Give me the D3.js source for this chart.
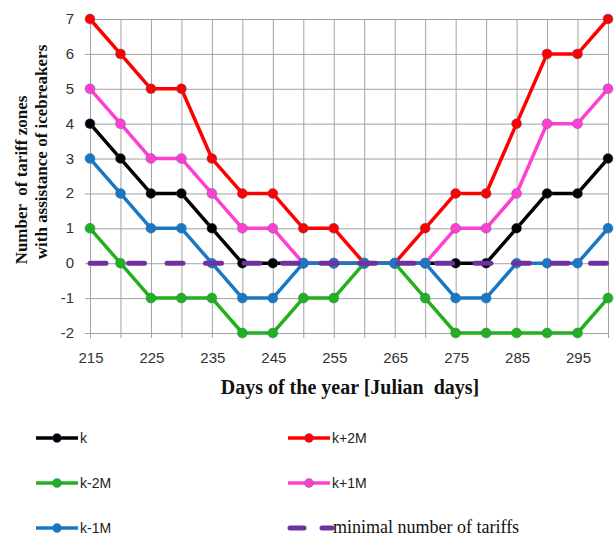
<!DOCTYPE html>
<html>
<head>
<meta charset="UTF-8">
<style>
  body { margin: 0; background: #fff; }
  svg { display: block; }
  text { white-space: pre; }
</style>
</head>
<body>
<svg></svg>
<script src="https://d3js.org/d3.v7.min.js"></script>
<script>

// days of the year (x values)
let days = [215, 220, 225, 230, 235, 240, 245, 250, 255, 260, 265, 270, 275, 280, 285, 290, 295, 300];

// series values
let kVals      = [4, 3, 2, 2, 1, 0, 0, 0, 0, 0, 0, 0, 0, 0, 1, 2, 2, 3];
let kPlus2M    = [7, 6, 5, 5, 3, 2, 2, 1, 1, 0, 0, 1, 2, 2, 4, 6, 6, 7];
let kPlus1M    = [5, 4, 3, 3, 2, 1, 1, 0, 0, 0, 0, 0, 1, 1, 2, 4, 4, 5];
let kMinus2M   = [1, 0, -1, -1, -1, -2, -2, -1, -1, 0, 0, -1, -2, -2, -2, -2, -2, -1];
let kMinus1M   = [3, 2, 1, 1, 0, -1, -1, 0, 0, 0, 0, 0, -1, -1, 0, 0, 0, 1];
let minimalVal = [0, 0, 0, 0, 0, 0, 0, 0, 0, 0, 0, 0, 0, 0, 0, 0, 0, 0];

let xTicks = [215, 225, 235, 245, 255, 265, 275, 285, 295];
let yTicks = [-2, -1, 0, 1, 2, 3, 4, 5, 6, 7];

let width = 616, height = 538;

let svg = d3.select("svg")
    .attr("width", width)
    .attr("height", height);

let x = d3.scaleLinear().domain([215, 300]).range([90, 608]);
let y = d3.scaleLinear().domain([-2, 7]).range([333, 19]);

// series in drawing order (later = on top)
let series = [
  {name: "k",     vals: kVals,    color: "#000000"},
  {name: "k+2M",  vals: kPlus2M,  color: "#ff0000"},
  {name: "k+1M",  vals: kPlus1M,  color: "#ff3fcf"},
  {name: "k-2M",  vals: kMinus2M, color: "#22b01c"},
  {name: "k-1M",  vals: kMinus1M, color: "#1a78c2"}
];

// grid
let grid = svg.append("g").attr("stroke", "#a3a3a3").attr("stroke-width", 1);
grid.selectAll(".vg")
  .data(days)
  .enter().append("line")
  .attr("x1", d => x(d) + 0.5).attr("x2", d => x(d) + 0.5)
  .attr("y1", y(7)).attr("y2", y(-2) + 5);
grid.selectAll(".hg")
  .data(yTicks)
  .enter().append("line")
  .attr("y1", d => y(d) + 0.5).attr("y2", d => y(d) + 0.5)
  .attr("x1", x(215) - 5).attr("x2", x(300));

// tick labels
svg.append("g")
  .selectAll("text")
  .data(yTicks)
  .enter().append("text")
  .attr("x", 74)
  .attr("y", d => y(d) + 5)
  .attr("text-anchor", "end")
  .attr("font-family", "Liberation Sans, Arial, sans-serif")
  .attr("font-size", 15)
  .attr("fill", "#333")
  .text(d => d);

svg.append("g")
  .selectAll("text")
  .data(xTicks)
  .enter().append("text")
  .attr("x", d => x(d) + 1)
  .attr("y", 363)
  .attr("text-anchor", "middle")
  .attr("font-family", "Liberation Sans, Arial, sans-serif")
  .attr("font-size", 15)
  .attr("fill", "#333")
  .text(d => d);

// axis titles
svg.append("text")
  .attr("x", 350).attr("y", 394)
  .attr("text-anchor", "middle")
  .attr("font-family", "Liberation Serif, Times New Roman, serif")
  .attr("font-weight", "bold")
  .attr("font-size", 20)
  .attr("fill", "#111")
  .text("Days of the year [Julian  days]");

let yTitle = svg.append("text")
  .attr("transform", "rotate(-90)")
  .attr("font-family", "Liberation Serif, Times New Roman, serif")
  .attr("font-weight", "bold")
  .attr("font-size", 17)
  .attr("fill", "#111")
  .attr("text-anchor", "middle");
yTitle.append("tspan").attr("x", -180).attr("y", 27).text("Number  of tariff zones");
yTitle.append("tspan").attr("x", -152).attr("y", 47).text("with assistance of icebreakers");

// lines
let line = d3.line()
  .x((d, i) => x(days[i]))
  .y(d => y(d));

series.forEach(s => {
  let g = svg.append("g");
  g.append("path")
    .attr("d", line(s.vals))
    .attr("fill", "none")
    .attr("stroke", s.color)
    .attr("stroke-width", 3.5)
    .attr("stroke-linejoin", "round");
  g.selectAll("circle")
    .data(s.vals)
    .enter().append("circle")
    .attr("cx", (d, i) => x(days[i]))
    .attr("cy", d => y(d))
    .attr("r", 5)
    .attr("fill", s.color)
    .attr("stroke", "#3b6a9a")
    .attr("stroke-opacity", 0.5)
    .attr("stroke-width", 0.8);
});

// minimal number of tariffs, dashed
svg.append("path")
  .attr("d", line(minimalVal))
  .attr("fill", "none")
  .attr("stroke", "#7030a0")
  .attr("stroke-width", 5)
  .attr("stroke-linecap", "round")
  .attr("stroke-dasharray", "16 22.5");

// legend
let legend = [
  {name: "k",    color: "#000000", col: 0, row: 0},
  {name: "k+2M", color: "#ff0000", col: 1, row: 0},
  {name: "k-2M", color: "#22b01c", col: 0, row: 1},
  {name: "k+1M", color: "#ff3fcf", col: 1, row: 1},
  {name: "k-1M", color: "#1a78c2", col: 0, row: 2}
];
let colX = [36, 288], rowY = [438, 483, 528];

legend.forEach(l => {
  let lx = colX[l.col], ly = rowY[l.row];
  svg.append("line")
    .attr("x1", lx).attr("x2", lx + 42)
    .attr("y1", ly).attr("y2", ly)
    .attr("stroke", l.color).attr("stroke-width", 3.5);
  svg.append("circle")
    .attr("cx", lx + 21).attr("cy", ly).attr("r", 4.5)
    .attr("fill", l.color)
    .attr("stroke", "#3b6a9a").attr("stroke-opacity", 0.5).attr("stroke-width", 0.8);
  svg.append("text")
    .attr("x", lx + 44).attr("y", ly + 5)
    .attr("font-family", "Liberation Sans, Arial, sans-serif")
    .attr("font-size", 14)
    .attr("fill", "#222")
    .text(l.name);
});

svg.append("path")
  .attr("d", `M${colX[1] + 2},${rowY[2]}H${colX[1] + 44}`)
  .attr("stroke", "#7030a0").attr("stroke-width", 5)
  .attr("stroke-linecap", "round")
  .attr("stroke-dasharray", "14 18");
svg.append("text")
  .attr("x", colX[1] + 45).attr("y", rowY[2] + 5)
  .attr("font-family", "Liberation Serif, Times New Roman, serif")
  .attr("font-size", 18)
  .attr("fill", "#111")
  .text("minimal number of tariffs");

</script>
</body>
</html>
